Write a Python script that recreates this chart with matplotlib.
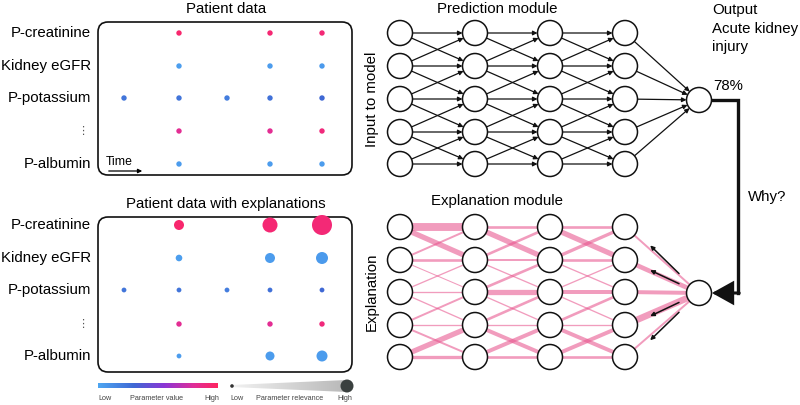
import numpy as np
import matplotlib
matplotlib.use('Agg')
import matplotlib.pyplot as plt
from matplotlib.patches import Circle, FancyBboxPatch, Polygon, FancyArrowPatch
from matplotlib.colors import LinearSegmentedColormap

plt.rcParams['font.family'] = ['Liberation Sans', 'DejaVu Sans']

nan = np.nan
# ---------------- data ----------------
row_labels = ['P-creatinine', 'Kidney eGFR', 'P-potassium', '\u22ee', 'P-albumin']
# parameter value (0 = low, 1 = high) per parameter x time step; nan = not measured
param_value = [
    [nan, 0.95, nan, 0.93, 0.92],
    [nan, 0.04, nan, 0.05, 0.06],
    [0.24, 0.24, 0.20, 0.26, 0.30],
    [nan, 0.82, nan, 0.82, 0.90],
    [nan, 0.05, nan, 0.05, 0.05],
]
# relevance (0..1) from the explanation module
relevance = [
    [nan, 0.50, nan, 0.75, 1.00],
    [nan, 0.33, nan, 0.50, 0.60],
    [0.24, 0.24, 0.24, 0.24, 0.24],
    [nan, 0.27, nan, 0.27, 0.27],
    [nan, 0.24, nan, 0.45, 0.55],
]
# explanation relevance flow widths, [layer][source][target]
flow_layers = [
    [[6.0, 4.0, 0, 0, 0],
     [1.5, 2.0, 0.8, 0, 0],
     [0, 1.0, 1.0, 1.0, 0],
     [0, 0, 1.5, 1.0, 1.5],
     [0, 0, 0, 4.0, 2.5]],
    [[2.0, 4.0, 0, 0, 0],
     [2.0, 1.5, 1.0, 0, 0],
     [0, 2.0, 4.0, 1.0, 0],
     [0, 0, 2.0, 1.0, 3.0],
     [0, 0, 0, 3.0, 2.0]],
    [[2.0, 4.0, 0, 0, 0],
     [2.5, 2.0, 1.0, 0, 0],
     [0, 1.0, 3.0, 1.0, 0],
     [0, 0, 2.0, 1.0, 3.0],
     [0, 0, 0, 3.0, 2.0]],
]
flow_output = [1.5, 3.5, 3.0, 5.0, 1.5]
output_prob = '78%'

# ---------------- layout (pixels) ----------------
W, H = 800, 405
fig = plt.figure(figsize=(W / 100, H / 100), dpi=100)
ax = fig.add_axes([0, 0, 1, 1])
ax.set_xlim(0, W)
ax.set_ylim(H, 0)
ax.axis('off')

FS = 10.8
col_px = [124, 179, 227, 270, 322]
top_rows = [33, 66, 98, 131, 164]
bot_rows = [225, 258, 290, 324, 356]

cmap = LinearSegmentedColormap.from_list('pv', [
    (0.0, '#4ea6f2'), (0.3, '#3f68d4'), (0.55, '#8a36d6'),
    (0.8, '#e02e98'), (1.0, '#ff2560')])


def panel(y0, h, rows, title, sizes):
    ax.add_patch(FancyBboxPatch((98, y0), 254, h,
                                boxstyle='round,pad=0,rounding_size=10',
                                fc='none', ec='#111111', lw=1.2, zorder=2))
    ax.text(226, y0 - 13, title, ha='center', va='center', fontsize=FS)
    for i, lab in enumerate(row_labels):
        if lab == '\u22ee':
            ax.text(88, rows[i], lab, ha='right', va='center', fontsize=8,
                    color='#555555', family=['DejaVu Sans'])
        else:
            ax.text(91, rows[i], lab, ha='right', va='center', fontsize=FS)
        for j, x in enumerate(col_px):
            v = param_value[i][j]
            if np.isnan(v):
                continue
            r = sizes(i, j)
            ax.add_patch(Circle((x, rows[i]), r, fc=cmap(v), ec='none', zorder=3))


panel(22, 153, top_rows, 'Patient data', lambda i, j: 2.7)
panel(217, 155, bot_rows, 'Patient data with explanations',
      lambda i, j: 10 * relevance[i][j])

# time arrow
ax.text(106, 162, 'Time', ha='left', va='center', fontsize=8.8)
ax.add_patch(FancyArrowPatch((106, 171), (145, 171), arrowstyle='-|>',
                             mutation_scale=6, lw=0.9, color='k'))

# legends
grad = np.linspace(0, 1, 256).reshape(1, -1)
ax.imshow(grad, cmap=cmap, extent=(98, 218, 388, 383), aspect='auto', zorder=2)
wedge = Polygon([(231, 385), (347, 380), (347, 392), (231, 387)], closed=True,
                fc='none', ec='none')
ax.add_patch(wedge)
gcm = LinearSegmentedColormap.from_list('g', ['#f2f2f2', '#b8b8b8'])
im = ax.imshow(grad, cmap=gcm, extent=(231, 347, 393, 379), aspect='auto', zorder=2)
im.set_clip_path(wedge)
ax.add_patch(Circle((347, 386), 6.5, fc='#3a403f', ec='none', zorder=3))
ax.add_patch(Circle((232, 386), 1.8, fc='#333333', ec='none', zorder=3))
ax.set_xlim(0, W)
ax.set_ylim(H, 0)
small = dict(fontsize=5.2, color='#444444', va='center')
ax.text(98, 398, 'Low', ha='left', **small)
ax.text(157, 398, 'Parameter value', ha='center', **small)
ax.text(219, 398, 'High', ha='right', **small)
ax.text(230, 398, 'Low', ha='left', **small)
ax.text(290, 398, 'Parameter relevance', ha='center', **small)
ax.text(352, 398, 'High', ha='right', **small)

# ---------------- networks ----------------
net_cols = [400, 475, 550, 625]
out_x = 699
top_net = [33, 66, 99, 132, 164]
bot_net = [227, 260, 292, 325, 357]
R = 12.5


def node(x, y):
    ax.add_patch(Circle((x, y), R, fc='white', ec='#111111', lw=1.1, zorder=5))


def edge_pts(p, q, shrink_a=R, shrink_b=R):
    p, q = np.array(p, float), np.array(q, float)
    d = (q - p) / np.linalg.norm(q - p)
    return p + d * shrink_a, q - d * shrink_b


def pred_arrow(p, q):
    a, b = edge_pts(p, q)
    ax.add_patch(FancyArrowPatch(tuple(a), tuple(b), arrowstyle='-|>',
                                 mutation_scale=6.5, lw=0.9, color='#111111',
                                 shrinkA=0, shrinkB=0, zorder=4))


# prediction module
ax.text(497, 9, 'Prediction module', ha='center', va='center', fontsize=FS)
ax.text(372, 99, 'Input to model', ha='center', va='center', fontsize=FS, rotation=90)
for L in range(3):
    for i in range(5):
        for j in range(5):
            if flow_layers[L][i][j] > 0:
                pred_arrow((net_cols[L], top_net[i]), (net_cols[L + 1], top_net[j]))
out_top = (out_x, 100)
for i in range(5):
    pred_arrow((net_cols[3], top_net[i]), out_top)
for x in net_cols:
    for y in top_net:
        node(x, y)
node(*out_top)

ax.text(712, 10, 'Output', ha='left', va='center', fontsize=FS)
ax.text(712, 29, 'Acute kidney', ha='left', va='center', fontsize=FS)
ax.text(712, 47, 'injury', ha='left', va='center', fontsize=FS)
ax.text(713, 86, output_prob, ha='left', va='center', fontsize=FS)
ax.text(748, 197, 'Why?', ha='left', va='center', fontsize=FS)

# explanation module
out_bot = (out_x, 293)
ax.text(497, 201, 'Explanation module', ha='center', va='center', fontsize=FS)
ax.text(372, 292, 'Explanation', ha='center', va='center', fontsize=FS, rotation=90)
pink = '#e8558e'
for L in range(3):
    for i in range(5):
        for j in range(5):
            w = flow_layers[L][i][j]
            if w > 0:
                ax.plot([net_cols[L], net_cols[L + 1]], [bot_net[i], bot_net[j]],
                        color=pink, lw=w * 0.95, alpha=0.58, solid_capstyle='butt', zorder=3)
for i in range(5):
    ax.plot([net_cols[3], out_bot[0]], [bot_net[i], out_bot[1]], color=pink,
            lw=flow_output[i] * 0.95, alpha=0.58, solid_capstyle='butt', zorder=3)
for x in net_cols:
    for y in bot_net:
        node(x, y)
node(*out_bot)

# back-propagation arrows
for i, off in zip([0, 1, 3, 4], [-4, -1, 2, 5]):
    p = np.array(out_bot, float)
    q = np.array((net_cols[3], bot_net[i]), float)
    d = q - p
    a = p + d * 0.27
    b = p + d * 0.66
    a[1] += off * 0.4
    b[1] += off
    ax.add_patch(FancyArrowPatch(tuple(a), tuple(b), arrowstyle='-|>',
                                 mutation_scale=6, lw=1.1, color='#111111',
                                 shrinkA=0, shrinkB=0, zorder=6))

# "Why?" connector
ax.plot([out_top[0] + R, 738, 738], [100, 100, 293], color='#111111', lw=2.4,
        solid_joinstyle='miter', zorder=4)
ax.add_patch(FancyArrowPatch((739.2, 293), (out_bot[0] + R + 0.5, 293),
                             arrowstyle='-|>,head_length=0.9,head_width=0.5',
                             mutation_scale=14, lw=2.2, color='#111111',
                             shrinkA=0, shrinkB=0, joinstyle='miter', zorder=4))

fig.savefig('out.png', dpi=100)
